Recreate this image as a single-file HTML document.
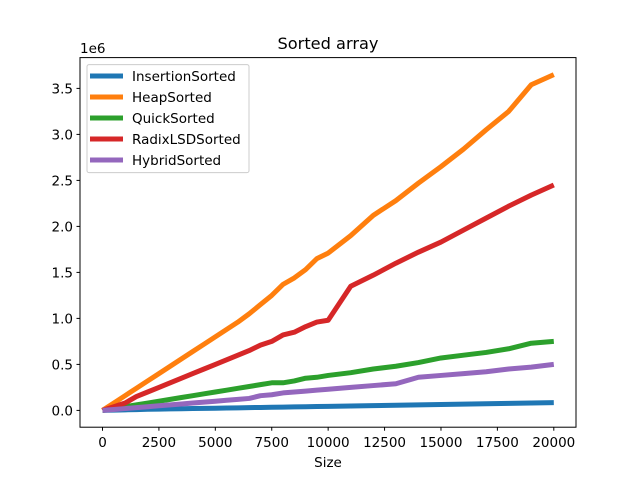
<!DOCTYPE html>
<html><head><meta charset="utf-8"><style>
body{margin:0;background:#fff;}
svg text{font-family:"DejaVu Sans","Liberation Sans",sans-serif;fill:#000;}
</style></head><body>
<svg id="chart" width="640" height="480" xmlns="http://www.w3.org/2000/svg">
<rect width="640" height="480" fill="#fff"/>
<text x="328" y="49" font-size="16.2" text-anchor="middle">Sorted array</text>
<text x="328" y="467" font-size="13.5" text-anchor="middle">Size</text>
<text x="80" y="53" font-size="13.5">1e6</text>
<g id="ticks"></g>
<g id="lines"></g>
<rect x="80" y="57.6" width="496" height="369.6" fill="none" stroke="#000" stroke-width="1"/>
<g id="legend"></g>
</svg>
<script>
const sizes=[0,500,1000,1500,2000,2500,3000,3500,4000,4500,5000,5500,6000,6500,7000,7500,8000,8500,9000,9500,10000,11000,12000,13000,14000,15000,16000,17000,18000,19000,20000];
const insertion=[0,0.003,0.006,0.009,0.012,0.014,0.016,0.018,0.02,0.022,0.024,0.026,0.028,0.03,0.032,0.034,0.036,0.038,0.04,0.042,0.044,0.048,0.052,0.056,0.06,0.064,0.068,0.072,0.076,0.08,0.084];
const heap=[0,0.08,0.16,0.24,0.32,0.40,0.48,0.56,0.64,0.72,0.80,0.88,0.96,1.05,1.15,1.25,1.37,1.44,1.53,1.65,1.71,1.90,2.12,2.28,2.47,2.65,2.84,3.05,3.25,3.54,3.65];
const quick=[0,0.02,0.04,0.06,0.08,0.10,0.12,0.14,0.16,0.18,0.20,0.22,0.24,0.26,0.28,0.30,0.30,0.32,0.35,0.36,0.38,0.41,0.45,0.48,0.52,0.57,0.60,0.63,0.67,0.73,0.75];
const radix=[0,0.04,0.08,0.15,0.20,0.25,0.30,0.35,0.40,0.45,0.50,0.55,0.60,0.65,0.71,0.75,0.82,0.85,0.91,0.96,0.98,1.35,1.47,1.60,1.72,1.83,1.96,2.09,2.22,2.34,2.45];
const hybrid=[0,0.01,0.02,0.03,0.04,0.05,0.06,0.07,0.08,0.09,0.10,0.11,0.12,0.13,0.16,0.17,0.19,0.20,0.21,0.22,0.23,0.25,0.27,0.29,0.36,0.38,0.40,0.42,0.45,0.47,0.50];
const seriesNames=["InsertionSorted","HeapSorted","QuickSorted","RadixLSDSorted","HybridSorted"];
const xTicks=[0,2500,5000,7500,10000,12500,15000,17500,20000];
const yTicks=[0,0.5,1.0,1.5,2.0,2.5,3.0,3.5];
const yTickLabels=["0.0","0.5","1.0","1.5","2.0","2.5","3.0","3.5"];

const colors=["#1f77b4","#ff7f0e","#2ca02c","#d62728","#9467bd"];
const NS="http://www.w3.org/2000/svg";
const xs=v=>102.5+(v/20000)*451.3;
const ys=v=>410.4-v*92;
function mk(tag,at,parent){const e=document.createElementNS(NS,tag);for(const k in at)e.setAttribute(k,at[k]);parent.appendChild(e);return e;}
const T=document.getElementById('ticks');
xTicks.forEach(t=>{
 const l=mk('line',{x1:xs(t),x2:xs(t),y1:427.2,y2:430.7,stroke:'#000'},T);
 
 
 const tx=mk('text',{x:xs(t),y:447,'font-size':13.5,'text-anchor':'middle'},T);tx.textContent=t;
 
 
});
yTicks.forEach((t,i)=>{
 const l=mk('line',{x1:76.5,x2:80,y1:ys(t),y2:ys(t),stroke:'#000'},T);
 
 
 const tx=mk('text',{x:73,y:ys(t)+5,'font-size':13.5,'text-anchor':'end'},T);tx.textContent=yTickLabels[i];
 
 
});
const L=document.getElementById('lines');
[insertion,heap,quick,radix,hybrid].forEach((s,i)=>{
 const p=mk('polyline',{points:s.map((v,j)=>xs(sizes[j])+','+ys(v)).join(' '),fill:'none',stroke:colors[i],'stroke-width':5,'stroke-linejoin':'round','stroke-linecap':'butt'},L);
 
 
});
const G=document.getElementById('legend');
const box=mk('rect',{x:87,y:64.6,width:162,height:108,rx:2,fill:'#fff','fill-opacity':0.8,stroke:'#ccc'},G);


seriesNames.forEach((n,i)=>{
 const y=76+i*21;
 const l=mk('line',{x1:90,x2:123,y1:y,y2:y,stroke:colors[i],'stroke-width':5},G);
 
 
 const t=mk('text',{x:132,y:y+5,'font-size':13.5},G);t.textContent=n;
 
 
});
</script>
</body></html>
